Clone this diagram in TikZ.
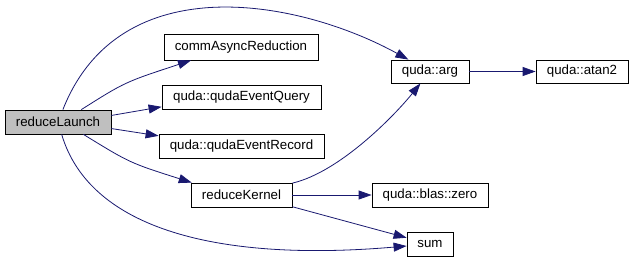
\documentclass[tikz,border=0pt]{standalone}
\usepackage{fontspec}
\setmainfont{Liberation Sans}
\usetikzlibrary{arrows.meta}
\definecolor{edgeblue}{HTML}{191970}
\definecolor{focusgray}{HTML}{BFBFBF}
\begin{document}
\begin{tikzpicture}[x=1pt,y=-1pt,
  fn/.style={draw=black, line width=0.8pt, fill=white, inner sep=0pt,
    minimum height=24pt, font=\fontsize{13.3}{16}\selectfont},
  call/.style={draw=edgeblue, line width=0.8pt,
    -{Triangle[length=13pt,width=9pt,fill=edgeblue]}}]
\useasboundingbox (0,0) rectangle (634,263);

% functions
\node[fn, fill=focusgray, minimum width=106pt] (rl) at (58,122) {reduceLaunch};
\node[fn, minimum width=154pt, minimum height=26pt] (comm) at (241,47) {commAsyncReduction};
\node[fn, minimum width=159pt] (query) at (241.5,97) {quda::qudaEventQuery};
\node[fn, minimum width=165pt] (record) at (241.5,146) {quda::qudaEventRecord};
\node[fn, minimum width=101pt] (rk) at (241.5,195) {reduceKernel};
\node[fn, minimum width=78pt, minimum height=23pt] (arg) at (430,71.5) {quda::arg};
\node[fn, minimum width=92pt, minimum height=23pt] (atan) at (582,71.5) {quda::atan2};
\node[fn, minimum width=116pt] (zero) at (430,195) {quda::blas::zero};
\node[fn, minimum width=46pt] (sum) at (430,244) {sum};

% calls
\draw[call] (rl) .. controls (120,-35) and (300,0) .. (arg);
\draw[call] (rl.28.6) .. controls (125,82) .. (comm.195);
\draw[call] (rl.7.5) -- (query.187.2);
\draw[call] (rl.-7.5) -- (record.173.8);
\draw[call] (rl.-26.6) .. controls (130,163) .. (rk.166.1);
\draw[call] (rl) .. controls (90,230) and (220,262) .. (sum);
\draw[call] (rk) .. controls (340,172) and (395,115) .. (arg);
\draw[call] (rk) -- (zero);
\draw[call] (rk.-13.9) -- (sum.165.4);
\draw[call] (arg) -- (atan);
\end{tikzpicture}
\end{document}
